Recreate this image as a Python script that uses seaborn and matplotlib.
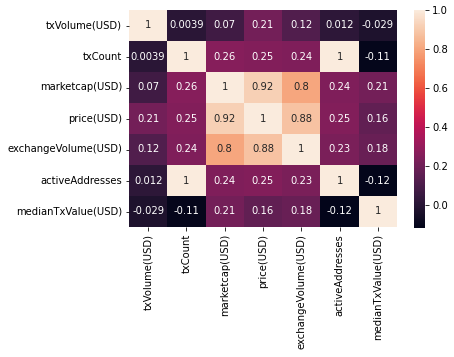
import numpy as np
import pandas as pd
import matplotlib
matplotlib.use("Agg")
import matplotlib.pyplot as plt
import seaborn as sns

labels = ["txVolume(USD)", "txCount", "marketcap(USD)", "price(USD)",
          "exchangeVolume(USD)", "activeAddresses", "medianTxValue(USD)"]
row_txVolume = [1, 0.0039, 0.07, 0.21, 0.12, 0.012, -0.029]
row_txCount = [0.0039, 1, 0.26, 0.25, 0.24, 1, -0.11]
row_marketcap = [0.07, 0.26, 1, 0.92, 0.8, 0.24, 0.21]
row_price = [0.21, 0.25, 0.92, 1, 0.88, 0.25, 0.16]
row_exchangeVolume = [0.12, 0.24, 0.8, 0.88, 1, 0.23, 0.18]
row_activeAddresses = [0.012, 1, 0.24, 0.25, 0.23, 1, -0.12]
row_medianTxValue = [-0.029, -0.11, 0.21, 0.16, 0.18, -0.12, 1]

corr = pd.DataFrame([row_txVolume, row_txCount, row_marketcap, row_price,
                     row_exchangeVolume, row_activeAddresses, row_medianTxValue],
                    index=labels, columns=labels)

W, H = 454, 357
fig = plt.figure(figsize=(W / 72, H / 72), dpi=72)
ax = fig.add_axes([129 / W, 1 - 227 / H, (397 - 129) / W, (227 - 10) / H])
cax = fig.add_axes([414 / W, 1 - 228 / H, (425 - 414) / W, (228 - 10) / H])
sns.heatmap(corr, annot=True, ax=ax, cbar_ax=cax)
fig.savefig("out.png", dpi=72)
